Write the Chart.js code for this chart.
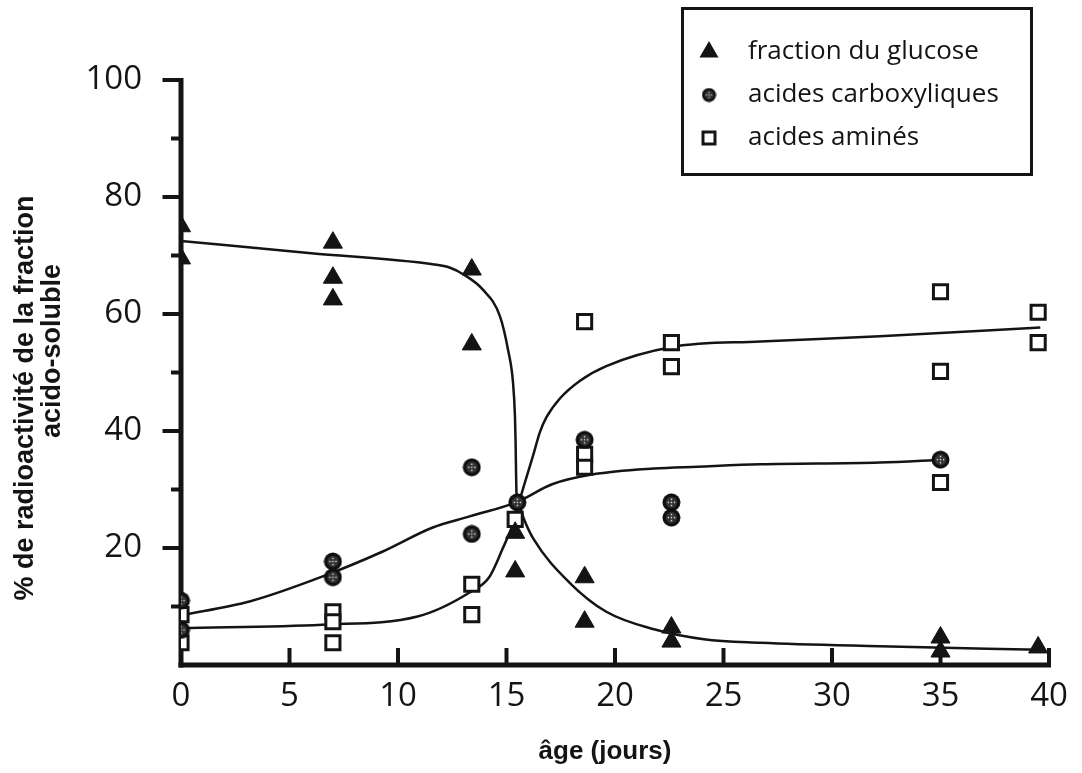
<!DOCTYPE html>
<html>
<head>
<meta charset="utf-8">
<script src="https://cdn.jsdelivr.net/npm/chart.js@4.4.1/dist/chart.umd.min.js"></script>
<style>
  html, body { margin: 0; padding: 0; background: #ffffff; }
  #wrap { width: 1082px; height: 773px; position: relative; }
</style>
</head>
<body>
<div id="wrap"><canvas id="c" width="1082" height="773"></canvas></div>
<script>
// ---------- data ----------
const seriesNames = ['fraction du glucose', 'acides carboxyliques', 'acides aminés'];
const xTickValues = [0, 5, 10, 15, 20, 25, 30, 35, 40];
const yTickValues = [20, 40, 60, 80, 100];
const yMinorTickValues = [10, 30, 50, 70, 90];
const xTitle = 'âge (jours)';
const yTitleLines = ['% de radioactivité de la fraction', 'acido-soluble'];

// measured points
const glucoseX = [0, 0, 7, 7, 7, 13.4, 13.4, 15.4, 15.4, 18.6, 18.6, 22.6, 22.6, 35, 35, 39.5];
const glucoseY = [75, 69.5, 72.2, 66.2, 62.5, 67.6, 54.8, 22.6, 16.0, 15.0, 7.4, 6.4, 4.0, 4.7, 2.3, 3.0];

const carboxX = [0, 0, 7, 7, 13.4, 13.4, 15.5, 18.6, 22.6, 22.6, 35];
const carboxY = [11.0, 6.0, 17.7, 15.0, 33.8, 22.4, 27.8, 38.5, 27.8, 25.2, 35.1];

const aminoX = [0, 0, 7, 7, 7, 13.4, 13.4, 15.4, 18.6, 18.6, 18.6, 22.6, 22.6, 35, 35, 35, 39.5, 39.5];
const aminoY = [8.6, 3.8, 9.1, 7.4, 3.8, 13.8, 8.6, 24.9, 58.7, 36.0, 33.8, 55.1, 51.0, 63.8, 50.2, 31.2, 60.3, 55.1];

// fitted curves
const glucoseFitX = [0, 6, 11.6, 12.4, 13.0, 13.9, 14.7, 15.07, 15.3, 15.39, 15.42, 15.44, 15.46, 15.55, 15.8, 16.25, 17.9, 19.6, 21.8, 24.1, 26.7, 32.2, 39.6];
const glucoseFitY = [72.5, 70.4, 68.5, 67.9, 66.8, 64.2, 59.6, 53.9, 48.3, 42.5, 38.0, 33.0, 29.5, 27.8, 25.0, 21.5, 14.1, 9.1, 6.1, 4.4, 3.8, 3.2, 2.6];

const carboxFitX = [0, 3.2, 6.5, 9.3, 11.6, 13.3, 15.5, 17.1, 19.0, 21.8, 23.8, 26.7, 32.2, 35.1];
const carboxFitY = [8.5, 10.9, 15.1, 19.4, 23.5, 25.4, 27.9, 30.9, 32.6, 33.6, 33.9, 34.3, 34.6, 35.1];

const aminoFitX = [0, 6.5, 10.9, 13.3, 14.2, 14.8, 15.4, 15.62, 16.24, 16.54, 16.85, 17.47, 18.39, 19.6, 22.7, 26.7, 32.2, 39.6];
const aminoFitY = [6.3, 6.9, 8.3, 12.4, 15.0, 19.7, 25.2, 28.3, 36.0, 39.8, 42.4, 45.6, 48.6, 51.1, 54.4, 55.3, 56.2, 57.7];

// ---------- helpers ----------
const pts = (xs, ys) => xs.map((x, i) => ({ x: x, y: ys[i] }));
const INK = '#141414';

function makeDottedCircle(d) {
  const c = document.createElement('canvas');
  c.width = d; c.height = d;
  const g = c.getContext('2d');
  const r = d / 2;
  g.fillStyle = '#0f0f0f';
  g.beginPath(); g.arc(r, r, r - 0.5, 0, Math.PI * 2); g.fill();
  g.fillStyle = '#333333';
  g.beginPath(); g.arc(r, r, r * 0.6, 0, Math.PI * 2); g.fill();
  g.fillStyle = '#eeeeee';
  const s = Math.max(1, d / 14);
  const off = r * 0.32;
  [[0, 0], [off, 0], [-off, 0], [0, off], [0, -off]].forEach(p => {
    g.fillRect(r + p[0] - s / 2, r + p[1] - s / 2, s, s);
  });
  return c;
}

const circleBig = makeDottedCircle(19);
const circleSmall = makeDottedCircle(15);

const framePlugin = {
  id: 'frame',
  beforeDraw(chart) {
    const ctx = chart.ctx;
    ctx.save();
    ctx.fillStyle = '#ffffff';
    ctx.fillRect(0, 0, chart.width, chart.height);
    ctx.restore();
  },
  beforeDatasetsDraw(chart) {
    const { ctx, scales: { x, y } } = chart;
    const x0 = x.getPixelForValue(0), x40 = x.getPixelForValue(40);
    const y0 = y.getPixelForValue(0), y100 = y.getPixelForValue(100);
    ctx.save();
    ctx.strokeStyle = INK;
    ctx.lineCap = 'butt';
    ctx.lineWidth = 5;
    ctx.beginPath(); ctx.moveTo(x0, y100 - 2); ctx.lineTo(x0, y0 + 2.5); ctx.stroke();
    ctx.beginPath(); ctx.moveTo(x0 - 2.5, y0); ctx.lineTo(x40 + 2, y0); ctx.stroke();
    ctx.lineWidth = 4;
    xTickValues.forEach(v => {
      if (v === 0) return;
      const px = x.getPixelForValue(v);
      ctx.beginPath(); ctx.moveTo(px, y0); ctx.lineTo(px, y0 - 17); ctx.stroke();
    });
    yTickValues.forEach(v => {
      const py = y.getPixelForValue(v);
      ctx.beginPath(); ctx.moveTo(x0, py); ctx.lineTo(x0 - 18.5, py); ctx.stroke();
    });
    yMinorTickValues.forEach(v => {
      const py = y.getPixelForValue(v);
      ctx.beginPath(); ctx.moveTo(x0, py); ctx.lineTo(x0 - 10, py); ctx.stroke();
    });
    ctx.restore();
  },
  afterDraw(chart) {
    const ctx = chart.ctx;
    ctx.save();
    ctx.fillStyle = INK;
    // axis titles
    ctx.font = 'bold 26px "Liberation Sans", Arial, sans-serif';
    ctx.textAlign = 'center';
    ctx.textBaseline = 'middle';
    ctx.fillText(xTitle, 605, 752);
    ctx.font = 'bold 27px "Liberation Sans", Arial, sans-serif';
    ctx.save();
    ctx.translate(26, 398);
    ctx.rotate(-Math.PI / 2);
    ctx.fillText(yTitleLines[0], 0, 0);
    ctx.restore();
    ctx.save();
    ctx.translate(53, 351);
    ctx.rotate(-Math.PI / 2);
    ctx.fillText(yTitleLines[1], 0, 0);
    ctx.restore();

    // legend box
    ctx.strokeStyle = INK;
    ctx.lineWidth = 3;
    ctx.strokeRect(682.5, 8.5, 349, 166);
    const rows = [52, 95, 138];
    const mx = 709;
    // triangle
    const r = 11;
    ctx.beginPath();
    ctx.moveTo(mx, rows[0] - r);
    ctx.lineTo(mx + r * Math.sin(2 * Math.PI / 3), rows[0] - r * Math.cos(2 * Math.PI / 3));
    ctx.lineTo(mx + r * Math.sin(4 * Math.PI / 3), rows[0] - r * Math.cos(4 * Math.PI / 3));
    ctx.closePath();
    ctx.fill();
    // dotted circle
    ctx.drawImage(circleSmall, mx - 7.5, rows[1] - 7.5);
    // square
    ctx.fillStyle = '#ffffff';
    ctx.fillRect(mx - 6, rows[2] - 6, 12, 12);
    ctx.lineWidth = 3;
    ctx.strokeRect(mx - 6, rows[2] - 6, 12, 12);
    // texts
    ctx.fillStyle = INK;
    ctx.font = '26px "Open Sans", sans-serif';
    ctx.textAlign = 'left';
    ctx.textBaseline = 'middle';
    seriesNames.forEach((n, i) => ctx.fillText(n, 748, rows[i]));
    ctx.restore();
  }
};

function build() {
  const lineStyle = {
    showLine: true, pointRadius: 0, pointHoverRadius: 0,
    borderColor: INK, borderWidth: 2.5, fill: false, order: 10,
    cubicInterpolationMode: 'monotone'
  };
  new Chart(document.getElementById('c'), {
    type: 'scatter',
    data: {
      datasets: [
        Object.assign({ label: 'fit glucose', data: pts(glucoseFitX, glucoseFitY) }, lineStyle),
        Object.assign({ label: 'fit carboxyliques', data: pts(carboxFitX, carboxFitY) }, lineStyle),
        Object.assign({ label: 'fit aminés', data: pts(aminoFitX, aminoFitY) }, lineStyle),
        {
          label: seriesNames[2], data: pts(aminoX, aminoY), order: 3,
          pointStyle: 'rect', pointRadius: 10, backgroundColor: '#ffffff',
          borderColor: INK, borderWidth: 3
        },
        {
          label: seriesNames[1], data: pts(carboxX, carboxY), order: 2,
          pointStyle: circleBig, pointRadius: 10
        },
        {
          label: seriesNames[0], data: pts(glucoseX, glucoseY), order: 1,
          pointStyle: 'triangle', pointRadius: 11, backgroundColor: INK,
          borderColor: INK, borderWidth: 1
        }
      ]
    },
    options: {
      responsive: false,
      animation: false,
      events: [],
      layout: { padding: { left: 0, right: 33, top: 80, bottom: 0 } },
      plugins: { legend: { display: false }, tooltip: { enabled: false } },
      scales: {
        x: {
          type: 'linear', min: 0, max: 40,
          border: { display: false },
          grid: { display: false, drawTicks: false },
          afterBuildTicks: s => { s.ticks = xTickValues.map(v => ({ value: v })); },
          afterFit: s => { s.height = 108; },
          ticks: {
            padding: 12, color: INK, maxRotation: 0, autoSkip: false,
            font: { family: '"Open Sans", sans-serif', size: 33 }
          }
        },
        y: {
          type: 'linear', min: 0, max: 100,
          border: { display: false },
          grid: { display: false, drawTicks: false },
          afterBuildTicks: s => { s.ticks = yTickValues.map(v => ({ value: v })); },
          afterFit: s => { s.width = 181; },
          ticks: {
            padding: 39, color: INK, autoSkip: false,
            font: { family: '"Open Sans", sans-serif', size: 33 }
          }
        }
      }
    },
    plugins: [framePlugin]
  });
}

Promise.all([
  document.fonts.load('33px "Open Sans"'),
  document.fonts.load('bold 26px "Liberation Sans"')
]).then(build, build);
</script>
</body>
</html>
